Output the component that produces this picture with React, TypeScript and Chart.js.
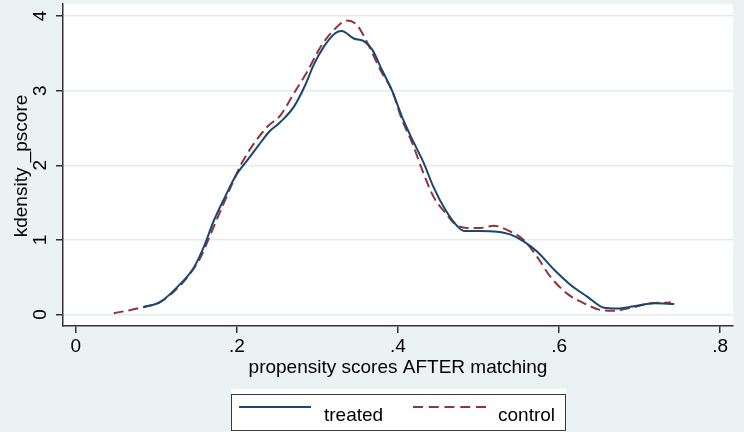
import React, { useEffect, useRef } from "react";
import { Chart, registerables } from "chart.js";
Chart.register(...registerables);

const treatedX = [0.084, 0.105, 0.126, 0.146, 0.159, 0.171, 0.184, 0.198, 0.213, 0.227, 0.24, 0.254, 0.271, 0.285, 0.295, 0.308, 0.322, 0.33, 0.345, 0.358, 0.368, 0.38, 0.393, 0.405, 0.418, 0.432, 0.444, 0.459, 0.474, 0.482, 0.502, 0.523, 0.54, 0.556, 0.573, 0.594, 0.614, 0.635, 0.656, 0.672, 0.693, 0.718, 0.743];
const treatedY = [0.097, 0.17, 0.37, 0.62, 0.91, 1.25, 1.55, 1.85, 2.07, 2.27, 2.45, 2.58, 2.79, 3.08, 3.34, 3.59, 3.77, 3.8, 3.7, 3.66, 3.55, 3.28, 2.99, 2.65, 2.34, 2.03, 1.71, 1.4, 1.18, 1.12, 1.12, 1.11, 1.07, 0.98, 0.84, 0.6, 0.4, 0.24, 0.09, 0.08, 0.11, 0.15, 0.14];

const controlX = [0.047, 0.084, 0.105, 0.126, 0.142, 0.155, 0.167, 0.18, 0.196, 0.206, 0.221, 0.238, 0.254, 0.271, 0.287, 0.304, 0.32, 0.337, 0.349, 0.362, 0.378, 0.393, 0.405, 0.418, 0.43, 0.444, 0.459, 0.471, 0.486, 0.502, 0.519, 0.538, 0.556, 0.573, 0.589, 0.61, 0.631, 0.652, 0.668, 0.689, 0.714, 0.739];
const controlY = [0.016, 0.1, 0.17, 0.35, 0.55, 0.77, 1.07, 1.4, 1.8, 2.03, 2.29, 2.52, 2.67, 2.97, 3.25, 3.59, 3.81, 3.94, 3.88, 3.64, 3.28, 2.99, 2.61, 2.29, 1.94, 1.58, 1.36, 1.21, 1.16, 1.16, 1.19, 1.12, 1.0, 0.77, 0.51, 0.28, 0.15, 0.06, 0.05, 0.09, 0.15, 0.16];

const xTicks = [0, 0.2, 0.4, 0.6, 0.8];
const xTickLabels = ["0", ".2", ".4", ".6", ".8"];
const yTicks = [0, 1, 2, 3, 4];
const yTickLabels = ["0", "1", "2", "3", "4"];
const seriesNames = ["treated", "control"];
const xTitle = "propensity scores AFTER matching";
const yTitle = "kdensity _pscore";

const BLUE = "#1a476f";
const RED = "#90353b";
const BG = "#eaf2f3";
const FONT = "'Liberation Sans', Arial, sans-serif";
const FS = 19;

export default function App() {
  const ref = useRef<HTMLCanvasElement | null>(null);

  useEffect(() => {
    const canvas = ref.current;
    if (!canvas) return;

    const bgPlugin = {
      id: "bg",
      beforeDraw(chart: any) {
        const { ctx, chartArea } = chart;
        ctx.save();
        ctx.fillStyle = BG;
        ctx.fillRect(0, 0, chart.width, chart.height);
        ctx.fillStyle = "#ffffff";
        ctx.fillRect(chartArea.left, chartArea.top, chartArea.right - chartArea.left, chartArea.bottom - chartArea.top);
        ctx.restore();
      },
    };

    const textPlugin = {
      id: "texts",
      afterDraw(chart: any) {
        const { ctx, chartArea } = chart;
        ctx.save();
        ctx.fillStyle = "#000000";
        ctx.font = `${FS}px ${FONT}`;
        // x title
        ctx.textAlign = "center";
        ctx.textBaseline = "alphabetic";
        const cx = (chartArea.left + chartArea.right) / 2;
        ctx.fillText(xTitle, cx, chartArea.bottom + 46.5);
        // y title
        ctx.save();
        ctx.translate(27, (chartArea.top + chartArea.bottom) / 2 + 1);
        ctx.rotate(-Math.PI / 2);
        ctx.fillText(yTitle, 0, 0);
        ctx.restore();

        // legend
        const lx0 = 231, lx1 = 566, ly0 = 389, ly1 = 432;
        ctx.fillStyle = "#ffffff";
        ctx.fillRect(lx0, ly0, lx1 - lx0, ly1 - ly0);
        ctx.strokeStyle = "#3a3a3a";
        ctx.lineWidth = 1;
        ctx.strokeRect(231.5, 394.5, 334, 36);

        const ly = 407;
        ctx.lineWidth = 2;
        ctx.strokeStyle = BLUE;
        ctx.setLineDash([]);
        ctx.beginPath();
        ctx.moveTo(239, ly);
        ctx.lineTo(311, ly);
        ctx.stroke();

        ctx.strokeStyle = RED;
        ctx.setLineDash([10, 5.75]);
        ctx.beginPath();
        ctx.moveTo(413, ly);
        ctx.lineTo(486, ly);
        ctx.stroke();
        ctx.setLineDash([]);

        ctx.fillStyle = "#000000";
        ctx.textAlign = "left";
        ctx.fillText(seriesNames[0], 324, 421);
        ctx.fillText(seriesNames[1], 498, 421);
        ctx.restore();
      },
    };

    const chart = new Chart(canvas, {
      type: "line",
      data: {
        datasets: [
          {
            label: seriesNames[0],
            data: treatedX.map((x, i) => ({ x, y: treatedY[i] })),
            borderColor: BLUE,
            borderWidth: 2,
            pointRadius: 0,
            fill: false,
            cubicInterpolationMode: "monotone",
          },
          {
            label: seriesNames[1],
            data: controlX.map((x, i) => ({ x, y: controlY[i] })),
            borderColor: RED,
            borderWidth: 2,
            borderDash: [10, 5],
            pointRadius: 0,
            fill: false,
            cubicInterpolationMode: "monotone",
          },
        ],
      },
      options: {
        animation: false,
        responsive: false,
        maintainAspectRatio: false,
        layout: { padding: { left: 0, top: 4, right: 11, bottom: 0 } },
        plugins: { legend: { display: false }, tooltip: { enabled: false }, title: { display: false } },
        scales: {
          x: {
            type: "linear",
            min: -0.016,
            max: 0.816,
            afterBuildTicks: (s: any) => {
              s.ticks = xTicks.map((v) => ({ value: v }));
            },
            afterFit: (s: any) => {
              s.height = 106;
              s.paddingLeft = 0;
              s.paddingRight = 0;
              s.paddingTop = 0;
              s.paddingBottom = 0;
            },
            ticks: {
              callback: (v: any) => {
                const i = xTicks.findIndex((t) => Math.abs(t - v) < 1e-9);
                return i >= 0 ? xTickLabels[i] : "";
              },
              color: "#000",
              font: { family: FONT, size: FS },
              padding: 2,
              maxRotation: 0,
              minRotation: 0,
            },
            grid: { drawOnChartArea: false, drawTicks: true, tickLength: 7, tickColor: "#333", lineWidth: 1.5 },
            border: { display: true, color: "#333", width: 1.5 },
          },
          y: {
            type: "linear",
            min: -0.154,
            max: 4.162,
            afterBuildTicks: (s: any) => {
              s.ticks = yTicks.map((v) => ({ value: v }));
            },
            afterFit: (s: any) => {
              s.width = 63;
              s.paddingLeft = 0;
              s.paddingRight = 0;
              s.paddingTop = 0;
              s.paddingBottom = 0;
            },
            ticks: {
              callback: (v: any) => {
                const i = yTicks.findIndex((t) => Math.abs(t - v) < 1e-9);
                return i >= 0 ? yTickLabels[i] : "";
              },
              color: "#000",
              font: { family: FONT, size: FS },
              padding: 10,
              minRotation: 90,
              maxRotation: 90,
              crossAlign: "center",
            },
            grid: { color: "#e2ebee", lineWidth: 1.5, drawTicks: true, tickLength: 7, tickColor: "#333" },
            border: { display: true, color: "#333", width: 1.5 },
          },
        },
      },
      plugins: [bgPlugin, textPlugin],
    } as any);

    return () => chart.destroy();
  }, []);

  return (
    <div style={{ position: "absolute", left: 0, top: 0, width: 744, height: 432 }}>
      <canvas ref={ref} width={744} height={432} style={{ display: "block" }} />
    </div>
  );
}
